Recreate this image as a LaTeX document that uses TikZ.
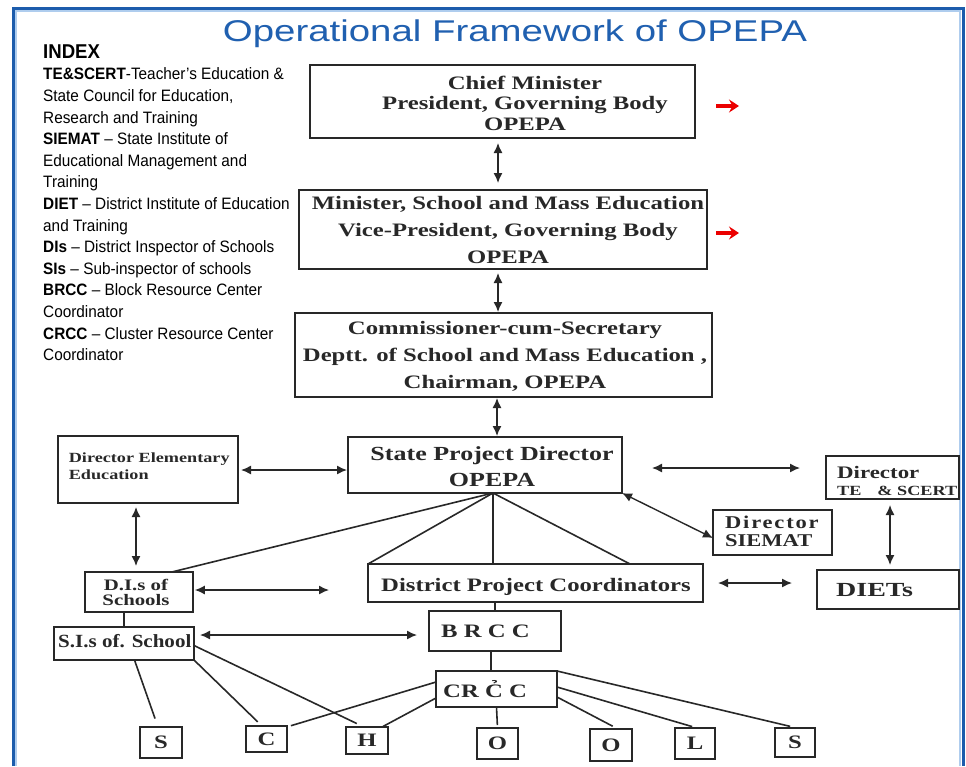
\documentclass[tikz,border=0pt]{standalone}
\usepackage{fontspec}
\setmainfont{Liberation Serif}
\newfontfamily\titlefont[FakeStretch=1.28]{Liberation Sans}
\newfontfamily\indexfont[FakeStretch=0.93]{Liberation Sans}
\newfontfamily\boxfont[FakeStretch=1.3]{Liberation Serif}
\newfontfamily\boxfontN[FakeStretch=1.13]{Liberation Serif}
\newfontfamily\boxfontM[FakeStretch=1.25]{Liberation Serif}
\newfontfamily\boxfontW[FakeStretch=1.4]{Liberation Serif}
\usetikzlibrary{arrows.meta,calc}
\definecolor{frameblue}{RGB}{28,92,172}
\definecolor{framelight}{RGB}{175,205,238}
\definecolor{titleblue}{RGB}{32,96,176}
\definecolor{ink}{RGB}{40,40,40}
\definecolor{redarrow}{RGB}{235,0,0}
\begin{document}
\begin{tikzpicture}[x=1pt,y=-1pt,
  box/.style={draw=ink,line width=1.8,inner sep=0,outer sep=0},
  btxt/.style={text=ink,inner sep=0,align=center},
  ln/.style={draw=ink,line width=1.6},
  dbl/.style={draw=ink,line width=1.4,>={Latex[length=10pt,width=9pt]},<->},
  rarr/.style={draw=redarrow,line width=3.2,-{Stealth[length=10pt,width=13pt,inset=3.5pt]}},
  letter/.style={box,text=ink,font=\boxfont\bfseries\fontsize{19}{22}\selectfont},
]
\fill[white] (0,0) rectangle (966,766);
\useasboundingbox (0,0) rectangle (966,766);
% frame
\draw[framelight,line width=1.5] (16,766) -- (16,11) -- (960,11) -- (960,766);
\draw[frameblue,line width=3] (13,766) -- (13,8) -- (963,8) -- (963,766);

% title
\node[anchor=base,text=titleblue,font=\titlefont\fontsize{30}{36}\selectfont,inner sep=0] (title) at (515,41) {Operational Framework of OPEPA};

% index
\node[anchor=north west,inner sep=0,text=black,font=\indexfont\fontsize{16.5}{21.6}\selectfont] (idx) at (43,42.9) {\begin{tabular}{@{}l@{}}
{\fontsize{20}{21.6}\selectfont\bfseries INDEX}\\
\textbf{TE\&SCERT}-Teacher’s Education \&\\
State Council for Education,\\
Research and Training\\
\textbf{SIEMAT} – State Institute of\\
Educational Management and\\
Training\\
\textbf{DIET} – District Institute of Education\\
and Training\\
\textbf{DIs} – District Inspector of Schools\\
\textbf{SIs} – Sub-inspector of schools\\
\textbf{BRCC} – Block Resource Center\\
Coordinator\\
\textbf{CRCC} – Cluster Resource Center\\
Coordinator
\end{tabular}};

% top boxes
\node[box,minimum width=385,minimum height=73] (cm) at (502.5,101.5) {};
\node[btxt,font=\boxfont\bfseries\fontsize{19}{20.4}\selectfont] (cmt) at (525,103.1) {Chief Minister\\President, Governing Body\\OPEPA};
\node[box,minimum width=408,minimum height=79] (min) at (503,229.5) {};
\node[btxt,font=\boxfont\bfseries\fontsize{19}{27}\selectfont] (mint) at (508,229.8) {Minister, School and Mass Education\\Vice-President, Governing Body\\OPEPA};
\node[box,minimum width=417,minimum height=84] (sec) at (503.5,355) {};
\node[btxt,font=\boxfont\bfseries\fontsize{19}{27}\selectfont] (sect) at (505,356.5) {Commissioner-cum-Secretary\\Deptt. of School and Mass Education ,\\Chairman, OPEPA};

% red arrows
\coordinate (r1a) at (716,106); \coordinate (r1b) at (739,106);
\coordinate (r2a) at (716,233); \coordinate (r2b) at (739,233);
\draw[rarr] (r1a) -- (r1b);
\draw[rarr] (r2a) -- (r2b);

% state project director
\node[box,minimum width=274,minimum height=56] (spd) at (485,465) {};
\node[btxt,font=\boxfont\bfseries\fontsize{20}{26.7}\selectfont] (spdt) at (492,466.8) {State Project Director\\OPEPA};

% director elementary education
\node[box,minimum width=180,minimum height=67] (dee) at (148,469.5) {};
\node[btxt,align=left,anchor=west,font=\boxfont\bfseries\fontsize{14}{17.3}\selectfont] (deet) at (68.6,466.5) {Director Elementary\\Education};

% director TE & SCERT
\node[box,minimum width=133,minimum height=43] (te) at (892.5,477.5) {};
\node[btxt,anchor=base west,font=\boxfont\bfseries\fontsize{17.6}{20}\selectfont] (tet1) at (837,478.3) {Director};
\node[btxt,anchor=base west,font=\boxfont\bfseries\fontsize{14}{16}\selectfont] (tet2) at (837,495) {TE\hspace{16pt}\& SCERT};

% director SIEMAT
\node[box,minimum width=119,minimum height=45] (sie) at (772.5,532.5) {};
\node[btxt,anchor=base west,font=\boxfontM\bfseries\fontsize{18}{18}\selectfont] (siet1) at (725,528) {\addfontfeature{LetterSpace=10}Director};
\node[btxt,anchor=base west,font=\boxfontM\bfseries\fontsize{18}{18}\selectfont] (siet2) at (725,546.5) {SIEMAT};

% DIs
\node[box,minimum width=108,minimum height=40] (dis) at (138.8,592) {};
\node[btxt,font=\boxfont\bfseries\fontsize{16}{15.7}\selectfont] (dist) at (136,592.4) {D.I.s of\\Schools};

% DPC
\node[box,minimum width=335,minimum height=38] (dpc) at (535.5,583) {};
\node[btxt,anchor=base,font=\boxfont\bfseries\fontsize{19}{22}\selectfont] (dpct) at (536,591.7) {District Project Coordinators};

% DIETs
\node[box,minimum width=142,minimum height=39] (diets) at (888,589.5) {};
\node[btxt,anchor=base west,font=\boxfontW\bfseries\fontsize{20}{22}\selectfont] (dietst) at (836,596.7) {DIETs};

% SIs
\node[box,minimum width=140,minimum height=33] (sis) at (124,643.5) {};
\node[btxt,anchor=base,font=\boxfontN\bfseries\fontsize{18.6}{22}\selectfont] (sist) at (124.8,647.3) {S.I.s of. School};

% BRCC, CRCC
\node[box,minimum width=132,minimum height=40] (brcc) at (495,631) {};
\node[btxt,anchor=base west,font=\boxfont\bfseries\fontsize{19}{22}\selectfont] (brcct) at (441,637.3) {B R C C};
\node[box,minimum width=121,minimum height=36] (crcc) at (496.5,689) {};
\node[btxt,anchor=base west,font=\boxfont\bfseries\fontsize{19}{22}\selectfont] (crcct) at (443,697.3) {CR C̉ C};

% school letters
\node[letter,minimum width=42,minimum height=31] (s1) at (161,742.5) {S};
\node[letter,minimum width=41,minimum height=26] (c1) at (266.5,739) {C};
\node[letter,minimum width=42,minimum height=27] (h1) at (367,740.5) {H};
\node[letter,minimum width=41,minimum height=31] (o1) at (497.5,743.5) {O};
\node[letter,minimum width=42,minimum height=32] (o2) at (611,745) {O};
\node[letter,minimum width=40,minimum height=31] (l1) at (695,743.5) {L};
\node[letter,minimum width=40,minimum height=29] (s2) at (795,742.5) {S};

% double arrows
\draw[dbl,shorten <=5,shorten >=7] (cm.south -| 498,0) -- (min.north -| 498,0);
\draw[dbl,shorten <=4,shorten >=1] (min.south -| 498,0) -- (sec.north -| 498,0);
\draw[dbl,shorten <=1,shorten >=1] (sec.south -| 497,0) -- (spd.north -| 497,0);
\draw[dbl,shorten <=3,shorten >=1] (dee.east |- 0,470) -- (spd.west |- 0,470);
\draw[dbl,shorten <=30,shorten >=26] (spd.east |- 0,468) -- (te.west |- 0,468);
\draw[dbl] (spd.south east) -- (sie.west |- 0,538);
\draw[dbl,shorten <=6,shorten >=5] (te.south -| 890,0) -- (diets.north -| 890,0);
\draw[dbl,shorten <=15,shorten >=25] (dpc.east |- 0,583) -- (diets.west |- 0,583);
\draw[dbl,shorten <=4,shorten >=6] (dee.south -| 136,0) -- (dis.north -| 136,0);
\coordinate (disend) at (329,590);
\draw[dbl,shorten <=2] (dis.east |- 0,590) -- (disend);
\draw[dbl,shorten <=6,shorten >=12] (sis.east |- 0,635) -- (brcc.west |- 0,635);

% fan from SPD
\coordinate (fan) at ([xshift=8]spd.south);
\draw[ln] (fan) -- ([xshift=-21]dis.north east);
\draw[ln] (fan) -- (dpc.north west);
\draw[ln] (fan) -- (dpc.north -| fan);
\draw[ln] (fan) -- ([xshift=-73]dpc.north east);

% tree lines
\draw[ln] (dpc.south -| brcc.north) -- (brcc.north);
\draw[ln] ([xshift=-4]brcc.south) -- ([xshift=-4]brcc.south |- crcc.north);
\draw[ln] (sis.north |- dis.south) -- (sis.north);

% to the school letters
\draw[ln,shorten >=9] ([xshift=10.5]sis.south) -- ([xshift=-3]s1.north);
\draw[ln,shorten >=6] (sis.south east) -- ([xshift=-4.5]c1.north);
\draw[ln,shorten >=8] ([yshift=-2]sis.east) -- ([xshift=-3]h1.north);
\draw[ln,shorten >=1] ([yshift=7]crcc.west) -- ([xshift=3]c1.north east);
\draw[ln,shorten >=1] ([yshift=-9]crcc.west) -- ([xshift=-6]h1.north east);
\draw[ln,shorten >=3] (crcc.south) -- (o1.north);
\draw[ln,shorten >=6] ([yshift=-8]crcc.east) -- ([xshift=7]o2.north);
\draw[ln,shorten >=5] ([yshift=2]crcc.east) -- ([xshift=2]l1.north);
\draw[ln,shorten >=7] (crcc.north east) -- ([xshift=2]s2.north);
\end{tikzpicture}
\end{document}
